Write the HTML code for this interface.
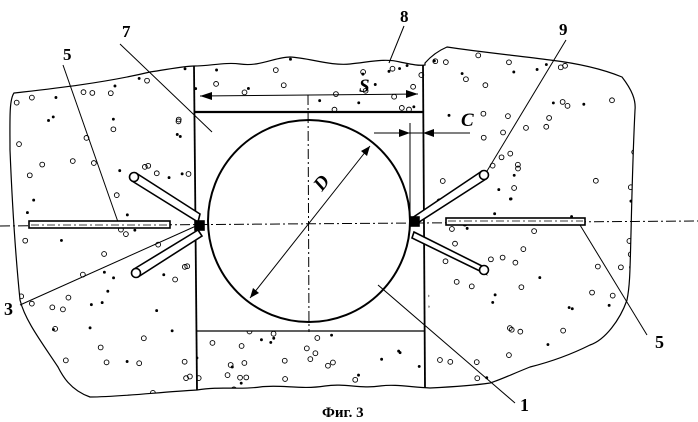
<!DOCTYPE html>
<html><head><meta charset="utf-8"><style>
html,body{margin:0;padding:0;background:#fff}
svg{display:block}
text{font-family:"Liberation Serif",serif;font-weight:bold;fill:#000}
</style></head><body>
<svg id="s" width="698" height="422" viewBox="0 0 698 422" xmlns="http://www.w3.org/2000/svg">
<defs>
<clipPath id="cl"><path d="M14,93 C40,90 100,84 150,72 C170,69 185,66 194,66 L197,390 C160,392 120,397 90,397 C70,390 62,375 58,367 C40,340 25,320 20,300 C15,250 12,200 10,150 C10,120 9,100 14,93 Z"/></clipPath>
<clipPath id="cr"><path d="M425,63 C432,55 440,50 447,47 C480,52 520,56 550,60 C575,63 600,68 622,77 C632,90 636,100 635,110 C633,150 632,190 631,233 C630,270 630,285 627,300 C620,320 605,340 590,345 C570,355 550,362 530,367 C510,375 500,380 490,383 C470,386 450,387 430,388 Z"/></clipPath>
<clipPath id="ct"><path d="M194,66 C210,66 225,62 240,64 C260,67 275,57 290,57 C310,58 330,66 350,64 C370,62 385,58 400,62 C410,64 418,66 425,65 L423,112 L194,112 Z"/></clipPath>
<clipPath id="cb"><path d="M196,331 L424,331 L427,388 C410,387 395,384 380,386 C360,389 345,383 325,386 C300,390 280,384 260,387 C240,390 220,386 197,390 Z"/></clipPath>
</defs>
<g fill="none" stroke="#000" stroke-width="1.2">
<path d="M14,93 C40,90 100,84 150,72 C170,69 185,66 194,66 C210,66 225,62 240,64 C260,67 275,57 290,57 C310,58 330,66 350,64 C370,62 385,58 400,62 C410,64 418,66 425,65 L425,63 C432,55 440,50 447,47 C480,52 520,56 550,60 C575,63 600,68 622,77 C632,90 636,100 635,110 C633,150 632,190 631,233 C630,270 630,285 627,300 C620,320 605,340 590,345 C570,355 550,362 530,367 C510,375 500,380 490,383 C470,386 450,387 430,388 C410,387 395,384 380,386 C360,389 345,383 325,386 C300,390 280,384 260,387 C240,390 220,386 197,390 C160,392 120,397 90,397 C70,390 62,375 58,367 C40,340 25,320 20,300 C15,250 12,200 10,150 C10,120 9,100 14,93 Z"/>
</g>
<g id="dots" fill="none" stroke="#000" stroke-width="0.9"></g>
<g fill="none" stroke="#000">
<line x1="194" y1="66" x2="197" y2="390" stroke-width="1.8"/>
<line x1="423" y1="65" x2="425" y2="388" stroke-width="1.8"/>
<line x1="194" y1="112" x2="423" y2="112" stroke-width="2.2"/>
<line x1="196" y1="331" x2="424" y2="331" stroke-width="1.2"/>
<circle cx="309" cy="221" r="101" stroke-width="2"/>
<line x1="0" y1="226" x2="698" y2="221" stroke-width="1" stroke-dasharray="10,3,2,3"/>
<line x1="308" y1="95" x2="309" y2="332" stroke-width="1" stroke-dasharray="10,3,2,3"/>
<line x1="250" y1="298" x2="370" y2="146" stroke-width="1"/>
<line x1="200" y1="96" x2="418" y2="94" stroke-width="1"/>
<line x1="410" y1="123" x2="410" y2="218" stroke-width="1"/>
<line x1="374" y1="133" x2="470" y2="133" stroke-width="1"/>
<line x1="404" y1="26" x2="389" y2="63" stroke-width="1"/>
<line x1="120" y1="44" x2="212" y2="132" stroke-width="1"/>
<line x1="63" y1="65" x2="118" y2="222" stroke-width="1"/>
<line x1="566" y1="40" x2="484" y2="176" stroke-width="1"/>
<line x1="20" y1="305" x2="196" y2="226" stroke-width="1"/>
<line x1="580" y1="225" x2="647" y2="335" stroke-width="1"/>
<line x1="378" y1="285" x2="515" y2="403" stroke-width="1"/>
</g>
<g fill="#000">
<polygon points="200,96 212,92 212,100"/>
<polygon points="418,94 406,90 406,98"/>
<polygon points="410,133 399,129 399,137"/>
<polygon points="423,133 434,129 434,137"/>
<polygon points="370,146 361,151 367,156"/>
<polygon points="250,298 253,288 259,293"/>
</g>
<g stroke="#000" stroke-width="1.6" fill="#fff">
<polygon points="200,214 136,173 132,181 198,222"/>
<circle cx="134" cy="177" r="4.5"/>
<polygon points="198,230 134,269 138,277 202,236"/>
<circle cx="136" cy="273" r="4.5"/>
<polygon points="412,218 482,171 486,179 416,224"/>
<circle cx="484" cy="175" r="4.5"/>
<polygon points="414,232 482,266 486,274 412,238"/>
<circle cx="484" cy="270" r="4.5"/>
<rect x="29" y="221" width="141" height="7"/>
<rect x="446" y="218" width="139" height="7"/>
<rect x="195" y="221" width="9" height="9" fill="#000"/>
<rect x="410" y="217" width="9" height="9" fill="#000"/>
</g>
<line x1="31" y1="225" x2="168" y2="225" stroke="#000" stroke-width="0.8" stroke-dasharray="8,3,2,3"/>
<line x1="448" y1="221" x2="583" y2="221" stroke="#000" stroke-width="0.8" stroke-dasharray="8,3,2,3"/>
<text x="400" y="22" font-size="17">8</text>
<text x="122" y="37" font-size="17">7</text>
<text x="63" y="60" font-size="17">5</text>
<text x="559" y="35" font-size="17">9</text>
<text x="359" y="92" font-size="19" font-style="italic">S</text>
<text x="461" y="126" font-size="19" font-style="italic">C</text>
<text x="0" y="0" font-size="19" font-style="italic" transform="translate(322,192) rotate(-52)">D</text>
<text x="4" y="315" font-size="18">3</text>
<text x="655" y="348" font-size="18">5</text>
<text x="520" y="411" font-size="18">1</text>
<text x="322" y="417" font-size="15">Фиг. 3</text>
</svg>
<script>
var s=12345;function r(){s=(s*16807)%2147483647;return s/2147483647;}
var g=document.getElementById('dots'),ns='http://www.w3.org/2000/svg';
var regions=[['cl',0,60,200,400,85],['cr',420,45,640,392,95],['ct',194,55,425,112,28],['cb',196,331,428,392,32]];
regions.forEach(function(R){var gg=document.createElementNS(ns,'g');gg.setAttribute('clip-path','url(#'+R[0]+')');
for(var i=0;i<R[5];i++){var c=document.createElementNS(ns,'circle');c.setAttribute('cx',R[1]+r()*(R[3]-R[1]));c.setAttribute('cy',R[2]+r()*(R[4]-R[2]));var big=r()<0.65;c.setAttribute('r',big?2.4:1);if(!big)c.setAttribute('fill','#000');gg.appendChild(c);}
g.appendChild(gg);});
</script>
</body></html>
